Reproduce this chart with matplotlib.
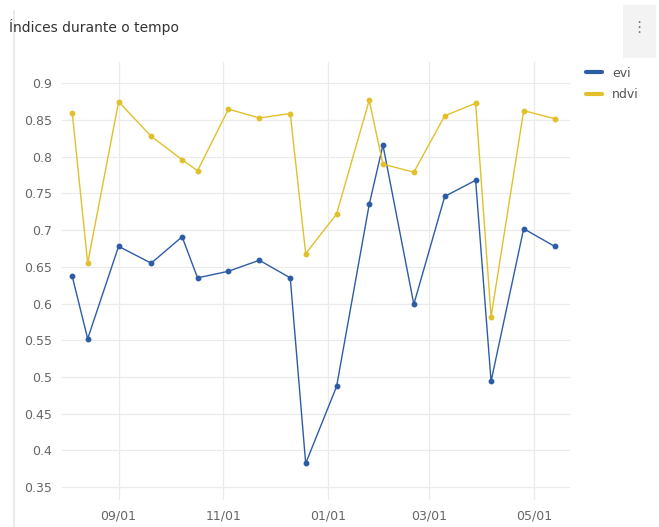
import numpy as np
import pandas as pd
import matplotlib
matplotlib.use('Agg')
import matplotlib.pyplot as plt
import matplotlib.dates as mdates
from matplotlib.lines import Line2D

dates = pd.to_datetime(['2022-08-05', '2022-08-14', '2022-09-01', '2022-09-20', '2022-10-08',
                        '2022-10-17', '2022-11-04', '2022-11-22', '2022-12-10', '2022-12-19',
                        '2023-01-06', '2023-01-25', '2023-02-02', '2023-02-20', '2023-03-10',
                        '2023-03-28', '2023-04-06', '2023-04-25', '2023-05-13'])
evi = [0.637, 0.552, 0.678, 0.655, 0.691, 0.635, 0.644, 0.659, 0.635, 0.382,
       0.487, 0.735, 0.816, 0.599, 0.746, 0.768, 0.494, 0.702, 0.678]
ndvi = [0.860, 0.655, 0.875, 0.828, 0.796, 0.781, 0.865, 0.853, 0.859, 0.668,
        0.722, 0.877, 0.790, 0.779, 0.856, 0.873, 0.582, 0.863, 0.852]
series_names = ['evi', 'ndvi']
colors = ['#2d5ca6', '#e2c02c']

fig = plt.figure(figsize=(6.59, 5.27), dpi=100)
ax = fig.add_axes([0.094, 0.051, 0.771, 0.831])

for vals, name, c in zip([evi, ndvi], series_names, colors):
    ax.plot(dates, vals, color=c, linewidth=1, marker='o', markersize=3.2, label=name)

ax.set_ylim(0.332, 0.929)
ax.set_yticks(np.arange(0.35, 0.901, 0.05))
ax.set_yticklabels(['0.35', '0.4', '0.45', '0.5', '0.55', '0.6', '0.65',
                    '0.7', '0.75', '0.8', '0.85', '0.9'])
ax.set_xlim(pd.Timestamp('2022-07-30'), pd.Timestamp('2023-05-22'))
ax.xaxis.set_major_locator(mdates.MonthLocator(bymonth=[1, 3, 5, 7, 9, 11]))
ax.xaxis.set_major_formatter(mdates.DateFormatter('%m/%d'))

ax.grid(True, color='#ebebeb', linewidth=0.9)
ax.set_axisbelow(True)
for s in ax.spines.values():
    s.set_visible(False)
ax.tick_params(length=0, labelsize=9, colors='#666666', pad=7)

handles = [Line2D([0], [0], color=c, linewidth=3, solid_capstyle='round') for c in colors]
fig.legend(handles, series_names, loc='upper left', bbox_to_anchor=(0.872, 0.895),
           frameon=False, handlelength=1.3, fontsize=9, labelcolor='#555555',
           handletextpad=0.8, labelspacing=0.7)

fig.text(0.014, 0.948, 'Índices durante o tempo', fontsize=10, color='#333333', va='center')
fig.add_artist(plt.Rectangle((0.945, 0.89), 0.05, 0.1, transform=fig.transFigure,
                             facecolor='#f3f3f3', edgecolor='none'))
fig.text(0.97, 0.948, '⋮', fontsize=11, color='#777777', ha='center', va='center')
fig.add_artist(Line2D([0.021, 0.021], [0, 0.98], transform=fig.transFigure,
                      color='#e6e6e6', linewidth=1.2))

fig.savefig('out.png', dpi=100)
